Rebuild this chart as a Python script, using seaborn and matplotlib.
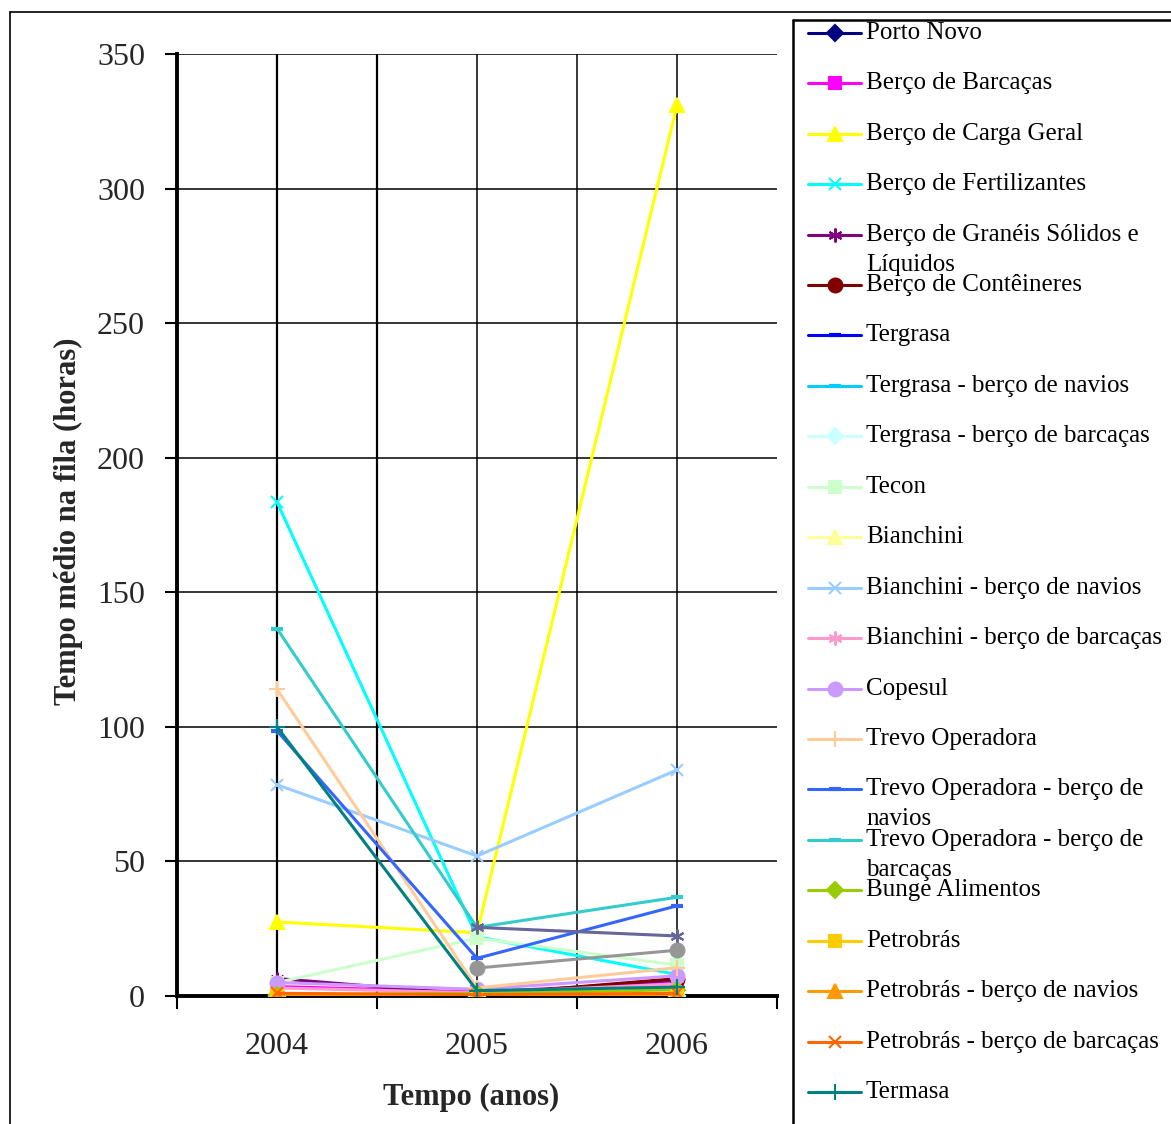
import matplotlib
matplotlib.use("Agg")
import matplotlib.pyplot as plt
from matplotlib.lines import Line2D
from matplotlib.ticker import FixedLocator, NullFormatter
import numpy as np
import seaborn as sns

# ---- data -------------------------------------------------------------
anos = ["2004", "2005", "2006"]

porto_novo = [0.0, 0.0, 0.0]
berco_barcacas = [3.5, 1.5, 5.0]
berco_carga_geral = [27.5, 23.5, 331.0]
berco_fertilizantes = [183.5, 22.0, 8.0]
berco_graneis = [6.5, 0.5, 6.0]
berco_conteineres = [0.3, 0.3, 6.5]
tergrasa = [0.0, 0.0, 0.0]
tergrasa_navios = [0.0, 0.0, 0.0]
tergrasa_barcacas = [0.0, 0.0, 0.0]
tecon = [5.0, 21.5, 11.5]
bianchini = [0.0, 0.0, 0.0]
bianchini_navios = [78.5, 52.0, 84.0]
bianchini_barcacas = [3.0, 1.2, 4.5]
copesul = [5.0, 2.5, 7.5]
trevo = [114.0, 3.0, 10.5]
trevo_navios = [98.5, 14.0, 33.5]
trevo_barcacas = [136.5, 25.5, 36.7]
bunge = [0.5, 1.0, 2.3]
petrobras = [0.0, 0.0, 0.0]
petrobras_navios = [0.0, 0.0, 0.0]
petrobras_barcacas = [1.0, 0.5, 1.0]
termasa = [100.0, 2.0, 3.3]
serie_23 = [np.nan, 25.5, 22.3]
serie_24 = [np.nan, 10.4, 17.0]

nomes = [
    "Porto Novo", "Berço de Barcaças", "Berço de Carga Geral",
    "Berço de Fertilizantes", "Berço de Granéis Sólidos e\nLíquidos",
    "Berço de Contêineres", "Tergrasa", "Tergrasa - berço de navios",
    "Tergrasa - berço de barcaças", "Tecon", "Bianchini",
    "Bianchini - berço de navios", "Bianchini - berço de barcaças",
    "Copesul", "Trevo Operadora", "Trevo Operadora - berço de\nnavios",
    "Trevo Operadora - berço de\nbarcaças", "Bunge Alimentos", "Petrobrás",
    "Petrobrás - berço de navios", "Petrobrás - berço de barcaças", "Termasa",
    "Série 23", "Série 24",
]
valores = [
    porto_novo, berco_barcacas, berco_carga_geral, berco_fertilizantes,
    berco_graneis, berco_conteineres, tergrasa, tergrasa_navios,
    tergrasa_barcacas, tecon, bianchini, bianchini_navios,
    bianchini_barcacas, copesul, trevo, trevo_navios, trevo_barcacas,
    bunge, petrobras, petrobras_navios, petrobras_barcacas, termasa,
    serie_23, serie_24,
]
n_legenda = 22  # entries listed in the key

# ---- styles -----------------------------------------------------------
cores = [
    "#000080", "#FF00FF", "#FFFF00", "#00FFFF", "#800080", "#800000",
    "#0000FF", "#00CCFF", "#CCFFFF", "#CCFFCC", "#FFFF99", "#99CCFF",
    "#FF99CC", "#CC99FF", "#FFCC99", "#3366FF", "#33CCCC", "#99CC00",
    "#FFCC00", "#FF9900", "#FF6600", "#008080", "#666699", "#969696",
]
asterisco = (6, 2, 0)
marcadores = [
    "D", "s", "^", "x", asterisco, "o", "_", "_", "D", "s", "^", "x",
    asterisco, "o", "+", "_", "_", "D", "s", "^", "x", "+", asterisco, "o",
]
tamanhos = {"D": 8, "s": 9, "^": 10, "o": 10, "x": 9, "+": 11, "_": 9}

sns.set_theme(style="white")
plt.rcParams["font.family"] = ["Liberation Serif", "DejaVu Serif"]

W, H = 1171, 1124
fig = plt.figure(figsize=(W / 100, H / 100), dpi=100)
ax = fig.add_axes([177 / W, (H - 996) / H, 600 / W, 942 / H])

pos = [0, 1, 2]
for i, (nome, vals) in enumerate(zip(nomes, valores)):
    m = marcadores[i]
    ms = tamanhos.get(m, 10) if isinstance(m, str) else 10
    sns.lineplot(
        x=pos, y=vals, ax=ax, color=cores[i], linewidth=2.2,
        marker=m, markersize=ms, markeredgecolor=cores[i],
        markerfacecolor=cores[i], markeredgewidth=1.5 if m != "_" else 3,
        legend=False, errorbar=None, sort=False, zorder=3 + i * 0.01,
    )

# ---- axes -------------------------------------------------------------
ax.set_xlim(-0.5, 2.5)
ax.set_ylim(0, 350)
ax.set_yticks(np.arange(0, 351, 50))
ax.set_yticklabels([str(v) for v in range(0, 351, 50)], fontsize=23)

ax.xaxis.set_major_locator(FixedLocator([-0.5, 0.5, 1.5, 2.5]))
ax.xaxis.set_major_formatter(NullFormatter())
ax.set_xticks(pos, minor=True)
ax.set_xticklabels(anos, minor=True, fontsize=23)
ax.tick_params(axis="x", which="major", direction="out", length=9, width=1.5,
               color="black", bottom=True)
ax.tick_params(axis="x", which="minor", length=0, pad=26, bottom=True)
ax.tick_params(axis="y", direction="out", length=9, width=1.5, color="black",
               pad=14, left=True)

ax.grid(False)
for v in range(50, 351, 50):
    ax.axhline(v, color="black", linewidth=1.1, zorder=1)
for xv in [0, 0.5, 1, 1.5, 2]:
    ax.axvline(xv, color="black", linewidth=1.6 if xv < 1 else 1.1, zorder=1)

for s in ["top", "right"]:
    ax.spines[s].set_visible(False)
for s in ["left", "bottom"]:
    ax.spines[s].set_color("black")
    ax.spines[s].set_linewidth(2.8)
    ax.spines[s].set_zorder(2)

ax.set_xlabel("Tempo (anos)", fontsize=22, fontweight="bold")
ax.xaxis.set_label_coords(0.49, (996 - 1083) / 942)
ax.set_ylabel("Tempo médio na fila (horas)", fontsize=22, fontweight="bold")
ax.yaxis.set_label_coords((83 - 177) / 600, (996 - 521) / 942)


def fx(px):
    return px / W


def fy(py):
    return 1 - py / H


# outer frame and key frame
fig.add_artist(Line2D([fx(10), fx(10)], [fy(12), fy(H + 5)], color="black",
                      linewidth=1.2, transform=fig.transFigure))
fig.add_artist(Line2D([fx(10), fx(W + 5)], [fy(12), fy(12)], color="black",
                      linewidth=1.2, transform=fig.transFigure))
fig.add_artist(Line2D([fx(793), fx(793)], [fy(20), fy(H + 5)], color="black",
                      linewidth=1.8, transform=fig.transFigure))
fig.add_artist(Line2D([fx(793), fx(W + 5)], [fy(20), fy(20)], color="black",
                      linewidth=1.8, transform=fig.transFigure))

# ---- key --------------------------------------------------------------
y0, passo = 32.7, 50.45
for i in range(n_legenda):
    y = y0 + i * passo
    m = marcadores[i]
    ms = tamanhos.get(m, 10) if isinstance(m, str) else 10
    fig.add_artist(Line2D([fx(808), fx(861)], [fy(y), fy(y)], color=cores[i],
                          linewidth=2.2, transform=fig.transFigure))
    fig.add_artist(Line2D([fx(834.5)], [fy(y)], color=cores[i], marker=m,
                          markersize=ms, markeredgecolor=cores[i],
                          markerfacecolor=cores[i],
                          markeredgewidth=1.5 if m != "_" else 3,
                          linestyle="none", transform=fig.transFigure))
    linhas = nomes[i].split("\n")
    for k, txt in enumerate(linhas):
        fig.text(fx(866), fy(y + k * 30), txt, fontsize=18, ha="left",
                 va="center", color="black")

fig.savefig("out.png", dpi=100, facecolor="white")
